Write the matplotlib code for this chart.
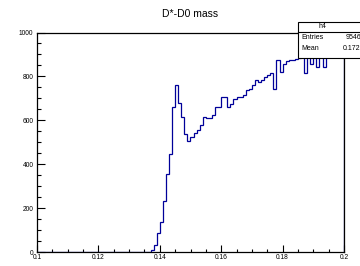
import numpy as np
import matplotlib
matplotlib.use("Agg")
import matplotlib.pyplot as plt
from matplotlib.patches import Rectangle

plt.rcParams['font.family'] = ['Liberation Sans', 'DejaVu Sans']

# histogram h4: 100 bins from 0.1 to 0.2
x_min, x_max, n_bins = 0.1, 0.2, 100
counts = [0] * 36 + [
    3, 10, 33, 86, 139, 235, 354, 447, 662, 760,
    677, 616, 537, 508, 525, 541, 556, 579, 616, 612,
    612, 624, 662, 662, 707, 707, 659, 675, 697, 705,
    705, 715, 738, 745, 760, 783, 775, 783, 798, 806,
    814, 745, 874, 821, 858, 869, 874, 874, 881, 885,
    888, 814, 911, 858, 897, 844, 915, 844, 926, 942,
    957, 957, 920, 911,
]
x_ticks = [0.1, 0.12, 0.14, 0.16, 0.18, 0.2]
x_ticklabels = ['0.1', '0.12', '0.14', '0.16', '0.18', '0.2']
y_ticks = [0, 200, 400, 600, 800, 1000]
title = 'D*-D0 mass'
stat_name = 'h4'
stat_rows = [('Entries', '95466'), ('Mean', '0.1726')]

edges = np.linspace(x_min, x_max, n_bins + 1)

fig = plt.figure(figsize=(3.6, 2.66), dpi=100)
ax = fig.add_axes([37 / 360, 1 - 252.3 / 266, 307 / 360, 219.8 / 266])

ax.stairs(counts, edges, color='#000099', linewidth=0.9, zorder=2)

ax.set_xlim(x_min, x_max)
ax.set_ylim(0, 1000)
ax.set_xticks(x_ticks)
ax.set_xticklabels(x_ticklabels)
ax.set_xticks(np.arange(0.1, 0.2001, 0.005), minor=True)
ax.set_yticks(y_ticks)
ax.set_yticks(np.arange(0, 1001, 50), minor=True)

ax.tick_params(which='both', direction='in', top=False, right=False,
               labelsize=4.8, width=0.8)
ax.tick_params(axis='x', which='major', length=5, pad=1.5)
ax.tick_params(axis='x', which='minor', length=2.5)
ax.tick_params(axis='y', which='major', length=5.5, pad=2.5)
ax.tick_params(axis='y', which='minor', length=2.8)
for s in ax.spines.values():
    s.set_linewidth(0.9)
    s.set_zorder(3)

fig.text(190 / 360, 1 - 14 / 266, title, ha='center', va='center', fontsize=7.5)

# stats box, runs off the right edge like the original
bx0, by_top, by_head, by_bot = 298 / 360, 1 - 21.5 / 266, 1 - 32.3 / 266, 1 - 57.5 / 266
fig.patches.append(Rectangle((bx0, by_bot), 0.3, by_top - by_bot, transform=fig.transFigure,
                             facecolor='white', edgecolor='black', linewidth=0.8, zorder=5))
fig.lines.append(plt.Line2D([bx0, 1.3], [by_head, by_head], transform=fig.transFigure,
                            color='black', linewidth=0.8, zorder=6))
fig.text(322 / 360, (by_top + by_head) / 2, stat_name, ha='center', va='center',
         fontsize=5, zorder=7)
row_y = [1 - 38 / 266, 1 - 49 / 266]
for (lab, val), yy in zip(stat_rows, row_y):
    fig.text(301 / 360, yy, lab, ha='left', va='center', fontsize=5, zorder=7)
    fig.text(1.013, yy, val, ha='right', va='center', fontsize=5, zorder=7)

fig.savefig('out.png', dpi=100)
